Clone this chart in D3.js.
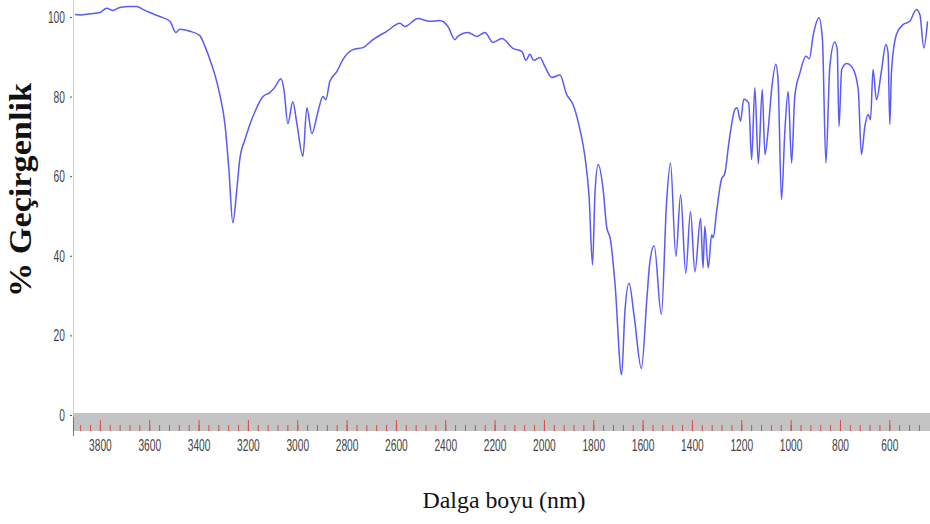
<!DOCTYPE html>
<html lang="en">
  <head>
    <meta charset="utf-8" />
    <title>IR spektrum</title>
    <script type="text/javascript" src="https://d3js.org/d3.v7.min.js"></script>
    <style>
      body { margin: 0; background: #fff; }
    </style>
  </head>
  <body>
    <div id="chart"></div>
    <script type="text/javascript">
      /********************************
       * data
       ********************************/

      // wavenumber of each traced point, high to low
      const wavenumber = [
        3901, 3880, 3840, 3800, 3772, 3747, 3719, 3678, 3650, 3626, 3597, 3557,
        3516, 3492, 3476, 3435, 3395, 3374, 3354, 3334, 3314, 3293, 3277, 3261,
        3245, 3233, 3212, 3192, 3168, 3139, 3111, 3091, 3066, 3054, 3038, 3018,
        3001, 2977, 2961, 2941, 2916, 2896, 2884, 2868, 2839, 2815, 2774, 2734,
        2693, 2637, 2584, 2564, 2511, 2462, 2422, 2389, 2361, 2349, 2308, 2272,
        2239, 2207, 2170, 2126, 2089, 2073, 2057, 2041, 2016, 1996, 1968, 1935,
        1908, 1882, 1854, 1834, 1817, 1803, 1793, 1780, 1760, 1746, 1730, 1712,
        1685, 1672, 1655, 1634, 1605, 1582, 1571, 1553, 1524, 1503, 1487, 1465,
        1446, 1425, 1406, 1388, 1365, 1355, 1348, 1334, 1320, 1314, 1300, 1280,
        1267, 1250, 1226, 1217, 1203, 1190, 1170, 1158, 1145, 1131, 1115, 1104,
        1091, 1077, 1060, 1051, 1037, 1023, 1010, 996, 983, 962, 938, 924,
        909, 885, 871, 857, 841, 821, 811, 804, 793, 773, 749, 726,
        713, 699, 686, 676, 666, 652, 632, 614, 605, 598, 591, 571,
        544, 517, 490, 476, 460, 445,
      ];

      // % transmittance at each wavenumber
      const transmittance = [
        100.6, 100.5, 100.8, 101.1, 102.2, 101.6, 102.4, 102.6, 102.6, 101.9, 101.1, 100.1,
        98.9, 96.1, 96.9, 96.4, 95.3, 92.6, 89.3, 85.5, 80.5, 73.0, 61.6, 48.3,
        56.6, 64.2, 69.2, 73.0, 76.7, 80.0, 81.0, 82.3, 84.5, 81.8, 73.2, 78.7,
        73.0, 65.0, 77.2, 70.7, 76.2, 80.0, 79.2, 83.8, 86.3, 89.3, 91.8, 92.3,
        94.3, 96.4, 98.4, 97.6, 99.6, 98.9, 99.1, 97.6, 94.3, 95.1, 96.1, 95.1,
        96.1, 93.6, 94.6, 92.1, 91.3, 89.1, 90.6, 89.1, 89.8, 87.5, 84.8, 85.4,
        80.5, 78.0, 71.7, 65.0, 54.9, 37.7, 55.8, 62.9, 56.6, 47.4, 44.0, 33.1,
        10.1, 25.7, 33.1, 24.7, 11.7, 29.8, 38.2, 42.5, 25.2, 53.3, 63.3, 39.8,
        55.3, 35.6, 51.1, 36.0, 49.4, 36.9, 47.4, 36.9, 45.3, 44.5, 51.1, 59.3,
        60.6, 68.5, 76.7, 77.2, 73.8, 79.3, 78.4, 64.2, 82.2, 63.1, 81.8, 65.4,
        71.7, 81.8, 88.1, 84.3, 54.1, 71.7, 81.3, 63.3, 80.1, 86.0, 90.1, 89.5,
        95.2, 99.8, 94.3, 63.3, 87.6, 93.7, 91.8, 72.5, 86.8, 88.3, 87.2, 81.8,
        65.4, 72.5, 75.5, 74.2, 86.8, 79.2, 86.4, 93.1, 91.0, 73.0, 86.4, 95.6,
        98.1, 98.9, 101.9, 100.6, 92.2, 98.9,
      ];

      const xMajorTicks = d3.range(3800, 599, -200); // 3800 ... 600, labelled
      const xMinorTicks = d3.range(3880, 440, -40);
      const yTicks = [0, 20, 40, 60, 80, 100];

      const xTitle = "Dalga boyu (nm)";
      const yTitle = "% Geçirgenlik";

      const points = wavenumber.map((w, i) => ({ w: w, t: transmittance[i] }));

      /***************************
       * svg
       **************************/

      const width = 930;
      const height = 524;
      const red = "#e04848";

      const svg = d3
        .select("div#chart")
        .append("svg")
        .attr("width", width)
        .attr("height", height)
        .style("display", "block");

      /****************************
       * scales
       ****************************/

      const x = d3.scaleLinear().domain([3909, 435]).range([73, 930]);
      const y = d3.scaleLinear().domain([0, 103]).range([415, 5]);

      const bandTop = 413;
      const bandBottom = 431;

      // grey strip under the plot
      svg
        .append("rect")
        .attr("x", x.range()[0])
        .attr("y", bandTop)
        .attr("width", x.range()[1] - x.range()[0])
        .attr("height", bandBottom - bandTop)
        .style("fill", "#c4c4c4");

      /*******************
       * axes
       ***********************/

      const tickFont = "'Liberation Sans', Arial, sans-serif";

      // minor red ticks
      const xMinor = svg
        .append("g")
        .attr("transform", `translate(0,${bandBottom})`)
        .call(d3.axisBottom(x).tickValues(xMinorTicks).tickSize(-6).tickFormat(""));
      xMinor.select(".domain").remove();
      xMinor.selectAll("text").remove();
      xMinor.selectAll("line").attr("stroke", red).style("stroke", red);

      // major red ticks with labels
      const xAxis = svg
        .append("g")
        .attr("transform", `translate(0,${bandBottom})`)
        .call(
          d3
            .axisBottom(x)
            .tickValues(xMajorTicks)
            .tickSizeInner(-11)
            .tickSizeOuter(0)
            .tickPadding(8)
            .tickFormat(d3.format("d"))
        );
      xAxis.select(".domain").remove();
      xAxis.selectAll("line").attr("stroke", red).style("stroke", red);
      xAxis
        .selectAll("text")
        .attr("transform", "scale(0.6,1)")
        .style("font-family", tickFont)
        .style("font-size", "17px")
        .style("fill", "#444");

      // left edge marker
      svg
        .append("line")
        .attr("x1", x.range()[0] + 0.5)
        .attr("x2", x.range()[0] + 0.5)
        .attr("y1", bandTop + 4)
        .attr("y2", bandBottom + 5)
        .style("stroke", red);

      const yAxis = svg
        .append("g")
        .attr("transform", `translate(${x.range()[0]},0)`)
        .call(d3.axisLeft(y).tickValues(yTicks).tickSizeInner(3).tickSizeOuter(0).tickPadding(10));
      yAxis.select(".domain").style("stroke", "#d0d0d0");
      yAxis.selectAll("line").style("stroke", "#555").attr("x1", -1).attr("x2", -3);
      yAxis
        .selectAll("text")
        .attr("x", -13.5)
        .attr("transform", "scale(0.6,1)")
        .style("font-family", tickFont)
        .style("font-size", "17px")
        .style("fill", "#444");

      // axis line reaches the top of the picture
      svg
        .append("line")
        .attr("x1", x.range()[0] + 0.5)
        .attr("x2", x.range()[0] + 0.5)
        .attr("y1", 0)
        .attr("y2", y.range()[1])
        .style("stroke", "#d0d0d0");

      /*******************
       * spectrum line
       *********************/

      const line = d3
        .line()
        .x((d) => x(d.w))
        .y((d) => y(d.t))
        .curve(d3.curveMonotoneX);

      svg
        .append("path")
        .datum(points)
        .attr("d", line)
        .style("fill", "none")
        .style("stroke", "#5a5af4")
        .style("stroke-width", 1.5)
        .style("stroke-linejoin", "round");

      /*******************
       * titles
       *********************/

      svg
        .append("text")
        .attr("x", 504)
        .attr("y", 508)
        .attr("text-anchor", "middle")
        .attr("textLength", 163)
        .attr("lengthAdjust", "spacingAndGlyphs")
        .style("font-family", "'Liberation Serif', 'Times New Roman', serif")
        .style("font-size", "24px")
        .style("fill", "#111")
        .text(xTitle);

      svg
        .append("text")
        .attr("transform", "translate(31,190) rotate(-90)")
        .attr("text-anchor", "middle")
        .attr("textLength", 214)
        .attr("lengthAdjust", "spacingAndGlyphs")
        .style("font-family", "'Liberation Serif', 'Times New Roman', serif")
        .style("font-weight", "bold")
        .style("font-size", "31px")
        .style("fill", "#111")
        .text(yTitle);
    </script>
  </body>
</html>
